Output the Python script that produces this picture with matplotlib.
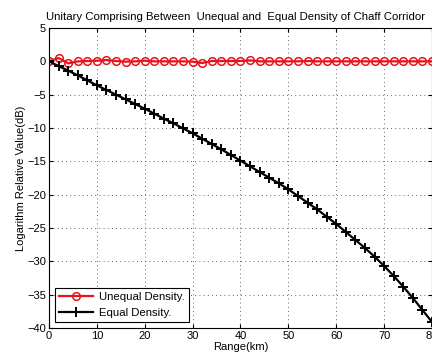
import matplotlib
matplotlib.use("Agg")
import matplotlib.pyplot as plt

plt.rcParams['font.family'] = ['Liberation Sans', 'DejaVu Sans']
plt.rcParams['font.size'] = 8

# range in km, one sample every 2 km
range_km = [0, 2, 4, 6, 8, 10, 12, 14, 16, 18, 20, 22, 24, 26, 28, 30, 32, 34, 36, 38, 40,
            42, 44, 46, 48, 50, 52, 54, 56, 58, 60, 62, 64, 66, 68, 70, 72, 74, 76, 78, 80]

unequal_db = [0.0, 0.5, -0.3, 0.0, 0.05, 0.1, 0.2, 0.05, -0.05, 0.0, 0.1,
              0.0, 0.0, 0.0, 0.0, -0.05, -0.25, 0.05, 0.05, 0.05, 0.05,
              0.15, 0.0, 0.0, 0.0, 0.0, 0.0, 0.05, 0.0, 0.0, 0.0,
              0.0, 0.0, 0.0, 0.0, 0.0, 0.0, 0.0, 0.0, 0.0, 0.0]

equal_db = [0.0, -0.7, -1.4, -2.1, -2.85, -3.6, -4.3, -5.0, -5.7, -6.4, -7.1,
            -7.85, -8.6, -9.3, -10.05, -10.8, -11.6, -12.4, -13.2, -14.05, -14.9,
            -15.75, -16.6, -17.45, -18.3, -19.2, -20.2, -21.2, -22.2, -23.3, -24.4,
            -25.6, -26.8, -28.0, -29.3, -30.7, -32.2, -33.8, -35.5, -37.3, -39.1]

x_ticks = [0, 10, 20, 30, 40, 50, 60, 70, 80]
y_ticks = [5, 0, -5, -10, -15, -20, -25, -30, -35, -40]

fig = plt.figure(figsize=(4.32, 3.61), dpi=100)
ax = fig.add_axes([0.1134, 0.0914, 0.8866, 0.831])

ax.plot(range_km, unequal_db, color='#e8141c', linewidth=1.6, marker='o',
        markersize=5.5, markerfacecolor='none', markeredgewidth=1.1,
        label='Unequal Density.')
ax.plot(range_km, equal_db, color='black', linewidth=1.6, marker='+',
        markersize=7, markeredgewidth=1.4, label='Equal Density.')

ax.set_xlim(0, 80)
ax.set_ylim(-40, 5)
ax.set_xticks(x_ticks)
ax.set_yticks(y_ticks)
ax.grid(True, linestyle=(0, (1, 4)), color='#333333', linewidth=0.6)
ax.tick_params(direction='in', top=True, right=True, length=3, pad=2)
for s in ax.spines.values():
    s.set_linewidth(0.8)

# the axes run slightly past the figure edge, so nudge the title left to keep it whole
ax.set_title('Unitary Comprising Between  Unequal and  Equal Density of Chaff Corridor',
             fontsize=8.2, pad=6, x=0.488)
ax.set_xlabel('Range(km)', labelpad=1)
ax.set_ylabel('Logarithm Relative Value(dB)', labelpad=1)

leg = ax.legend(loc='lower left', fancybox=False, edgecolor='black',
                framealpha=1, borderaxespad=0.5, handlelength=3.0,
                handletextpad=0.5, fontsize=8.2)
leg.get_frame().set_linewidth(0.8)

fig.savefig('out.png', dpi=100)
